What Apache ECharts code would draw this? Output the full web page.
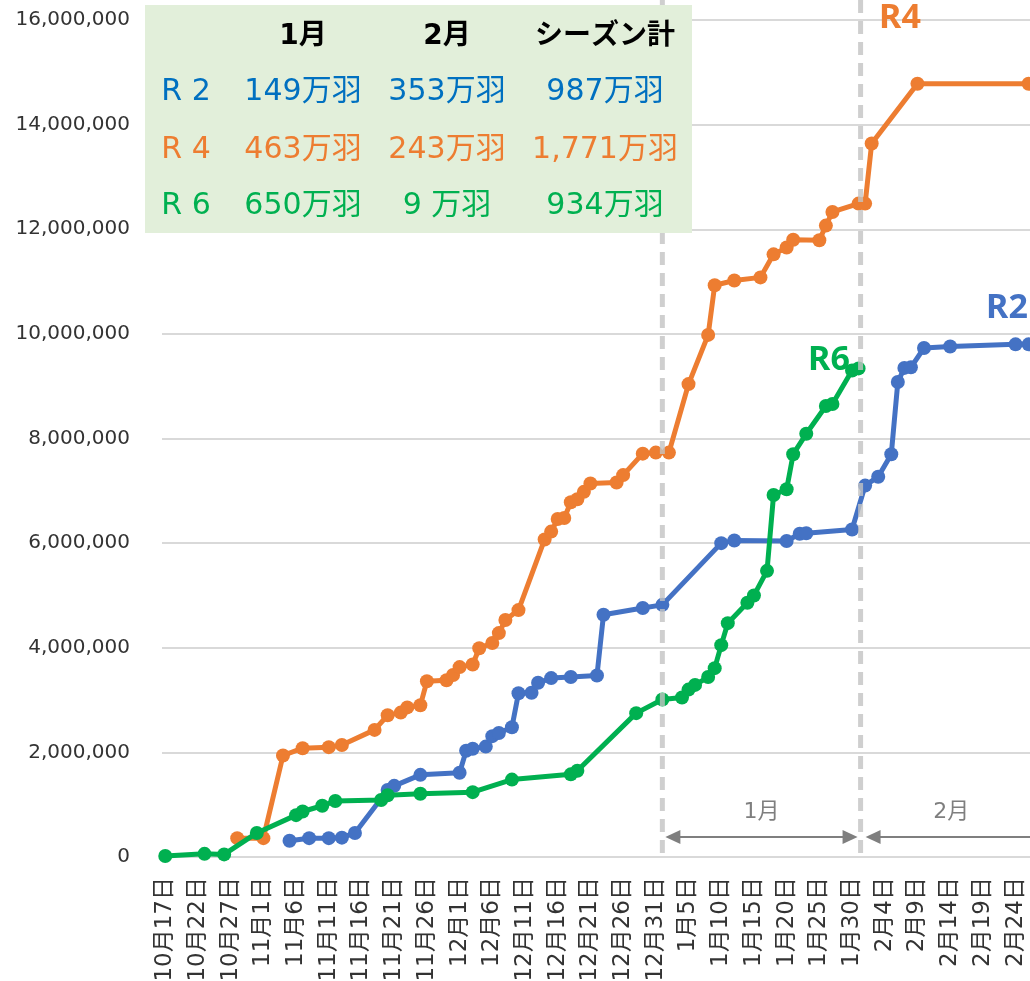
<!DOCTYPE html>
<html><head><meta charset="utf-8">
<script src="https://cdn.jsdelivr.net/npm/echarts@6/dist/echarts.min.js"></script>
<style>html,body{margin:0;padding:0;overflow:hidden;background:#fff}#c{width:1030px;height:981px}</style>
</head><body><div id="c"></div>
<script>
// axis definition: [month, first day, last day]
const monthSpans = [[10,17,31],[11,1,30],[12,1,31],[1,1,31],[2,1,28]];
const yTicks = [0,2000000,4000000,6000000,8000000,10000000,12000000,14000000,16000000];

const r2Dates = ['11月5日','11月8日','11月11日','11月13日','11月15日','11月20日','11月21日','11月25日','12月1日','12月2日','12月3日','12月5日','12月6日','12月7日','12月9日','12月10日','12月12日','12月13日','12月15日','12月18日','12月22日','12月23日','12月29日','1月1日','1月10日','1月12日','1月20日','1月22日','1月23日','1月30日','2月1日','2月3日','2月5日','2月6日','2月7日','2月8日','2月10日','2月14日','2月24日','2月26日'];
const r2Values = [310000,360000,360000,370000,460000,1280000,1360000,1570000,1610000,2030000,2070000,2110000,2310000,2370000,2480000,3130000,3140000,3330000,3420000,3440000,3470000,4630000,4760000,4820000,6000000,6050000,6040000,6180000,6190000,6260000,7100000,7270000,7700000,9080000,9350000,9360000,9730000,9760000,9800000,9800000];

const r4Dates = ['10月28日','11月1日','11月4日','11月7日','11月11日','11月13日','11月18日','11月20日','11月22日','11月23日','11月25日','11月26日','11月29日','11月30日','12月1日','12月3日','12月4日','12月6日','12月7日','12月8日','12月10日','12月14日','12月15日','12月16日','12月17日','12月18日','12月19日','12月20日','12月21日','12月25日','12月26日','12月29日','12月31日','1月2日','1月5日','1月8日','1月9日','1月12日','1月16日','1月18日','1月20日','1月21日','1月25日','1月26日','1月27日','1月31日','2月1日','2月2日','2月9日','2月26日'];
const r4Values = [360000,360000,1940000,2080000,2100000,2140000,2430000,2710000,2760000,2860000,2900000,3360000,3380000,3480000,3630000,3680000,3990000,4090000,4280000,4530000,4720000,6070000,6220000,6460000,6480000,6780000,6840000,6980000,7140000,7160000,7300000,7710000,7730000,7730000,9040000,9980000,10930000,11020000,11080000,11520000,11650000,11800000,11790000,12070000,12330000,12490000,12490000,13640000,14780000,14780000];

const r6Dates = ['10月17日','10月23日','10月26日','10月31日','11月6日','11月7日','11月10日','11月12日','11月19日','11月20日','11月25日','12月3日','12月9日','12月18日','12月19日','12月28日','1月1日','1月4日','1月5日','1月6日','1月8日','1月9日','1月10日','1月11日','1月14日','1月15日','1月17日','1月18日','1月20日','1月21日','1月23日','1月26日','1月27日','1月30日','1月31日'];
const r6Values = [20000,60000,50000,460000,800000,870000,980000,1070000,1090000,1180000,1210000,1240000,1480000,1580000,1650000,2750000,3010000,3050000,3200000,3290000,3440000,3610000,4050000,4470000,4860000,5000000,5470000,6920000,7030000,7700000,8090000,8620000,8660000,9300000,9340000];

const tableHeader = ['', '1月', '2月', 'シーズン計'];
const tableRows = [
  ['R 2', '149万羽', '353万羽', '987万羽'],
  ['R 4', '463万羽', '243万羽', '1,771万羽'],
  ['R 6', '650万羽', '9 万羽', '934万羽']
];
const seriesNames = ['R2', 'R4', 'R6'];
const monthMarks = ['1月', '2月'];

const categories = [];
monthSpans.forEach(([m, a, b]) => { for (let d = a; d <= b; d++) categories.push(m + '月' + d + '日'); });

const FONT = '"DejaVu Sans", "Noto Sans CJK JP", sans-serif';
const lineColors = ['#4472c4', '#ed7d31', '#00b050'];
const textColors = ['#0070c0', '#ed7d31', '#00b050'];
function pairs(d, v) { return d.map((x, i) => [x, v[i]]); }
function mkSeries(name, d, v, color, z) {
  return { name, type: 'line', data: pairs(d, v), symbol: 'circle', symbolSize: 14, z,
    showSymbol: true, showAllSymbol: true, clip: false,
    itemStyle: { color }, lineStyle: { color, width: 5 }, emphasis: { disabled: true } };
}

const chart = echarts.init(document.getElementById('c'));
chart.setOption({
  animation: false,
  backgroundColor: '#ffffff',
  grid: { left: 162, top: 20, width: 883, height: 837, outerBoundsMode: 'none', containLabel: false },
  xAxis: { type: 'category', data: categories, boundaryGap: true,
    axisLine: { show: true, lineStyle: { color: '#d9d9d9', width: 2 } },
    axisTick: { show: false },
    axisLabel: { interval: 4, rotate: 90, fontSize: 23, color: '#333333', fontFamily: FONT, margin: 20, hideOverlap: false } },
  yAxis: { type: 'value', min: yTicks[0], max: yTicks[yTicks.length - 1], interval: yTicks[1] - yTicks[0],
    axisLine: { show: false }, axisTick: { show: false },
    splitLine: { lineStyle: { color: '#d9d9d9', width: 2 } },
    axisLabel: { fontSize: 20, color: '#333333', fontFamily: FONT, margin: 32,
      formatter: v => v.toLocaleString('en-US') } },
  series: [
    mkSeries(seriesNames[0], r2Dates, r2Values, lineColors[0], 2),
    mkSeries(seriesNames[1], r4Dates, r4Values, lineColors[1], 3),
    mkSeries(seriesNames[2], r6Dates, r6Values, lineColors[2], 4)
  ]
});

const xJan1 = chart.convertToPixel({ xAxisIndex: 0 }, '1月1日');
const xJan31 = chart.convertToPixel({ xAxisIndex: 0 }, '1月31日') + 2;
const xFebEnd = chart.convertToPixel({ xAxisIndex: 0 }, '2月28日');
const y0 = chart.convertToPixel({ yAxisIndex: 0 }, 0);
const ay = y0 - 20;
const arrowC = '#7f7f7f';
const g = [];
[xJan1, xJan31].forEach(x => g.push({ type: 'line', z: 10, silent: true,
  shape: { x1: x, y1: 0, x2: x, y2: y0 },
  style: { stroke: 'rgba(195,195,195,0.8)', lineWidth: 5, lineDash: [13, 8] } }));
function arrow(x1, x2, heads) {
  g.push({ type: 'line', z: 11, shape: { x1: x1 + 8, y1: ay, x2: x2 - 8, y2: ay }, style: { stroke: arrowC, lineWidth: 2 } });
  if (heads[0]) g.push({ type: 'polygon', z: 11, shape: { points: [[x1, ay], [x1 + 15, ay - 7], [x1 + 15, ay + 7]] }, style: { fill: arrowC } });
  if (heads[1]) g.push({ type: 'polygon', z: 11, shape: { points: [[x2, ay], [x2 - 15, ay - 7], [x2 - 15, ay + 7]] }, style: { fill: arrowC } });
}
arrow(xJan1 + 3, xJan31 - 3, [true, true]);
arrow(xJan31 + 5, 1100, [true, false]);
g.push({ type: 'text', z: 11, style: { text: monthMarks[0], x: (xJan1 + xJan31) / 2, y: ay - 25, fill: arrowC, font: '22px ' + FONT, textAlign: 'center', textVerticalAlign: 'middle', verticalAlign: 'middle' } });
g.push({ type: 'text', z: 11, style: { text: monthMarks[1], x: (xJan31 + xFebEnd) / 2, y: ay - 25, fill: arrowC, font: '22px ' + FONT, textAlign: 'center', textVerticalAlign: 'middle', verticalAlign: 'middle' } });

// table
g.push({ type: 'rect', z: 20, shape: { x: 145, y: 5, width: 547, height: 228 }, style: { fill: '#e2efda' } });
const colX = [186, 303, 447, 605];
const rowY = [37, 92, 150, 206];
tableHeader.forEach((t, i) => { if (t) g.push({ type: 'text', z: 21, style: { text: t, x: colX[i], y: rowY[0], fill: '#000', font: 'bold 28px ' + FONT, textAlign: 'center', textVerticalAlign: 'middle', verticalAlign: 'middle' } }); });
tableRows.forEach((row, r) => row.forEach((t, i) => g.push({ type: 'text', z: 21, style: { text: t, x: colX[i], y: rowY[r + 1], fill: textColors[r], font: '30px ' + FONT, textAlign: 'center', textVerticalAlign: 'middle', verticalAlign: 'middle' } })));

// series name labels
const lblPos = [[1007, 308], [900, 18], [829, 360]];
const lblColors = [lineColors[0], lineColors[1], lineColors[2]];
seriesNames.forEach((n, i) => g.push({ type: 'text', z: 22, style: { text: n, x: lblPos[i][0], y: lblPos[i][1], fill: lblColors[i], font: 'bold 34px "Noto Sans", ' + FONT, textAlign: 'center', textVerticalAlign: 'middle', verticalAlign: 'middle' } }));

chart.setOption({ graphic: g });
</script>
</body></html>
